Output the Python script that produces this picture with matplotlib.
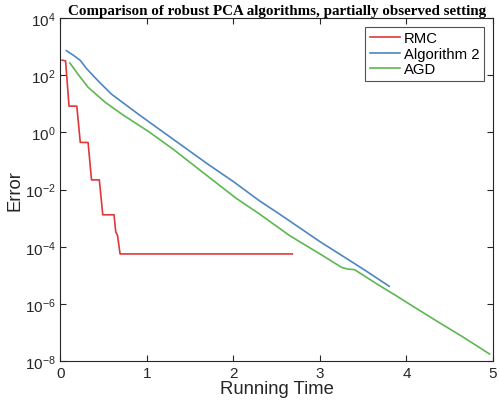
import numpy as np
import matplotlib
matplotlib.use("Agg")
import matplotlib.pyplot as plt
from matplotlib.ticker import FixedLocator, LogFormatterSciNotation, NullLocator

plt.rcParams['font.family'] = ['Liberation Sans', 'DejaVu Sans']
plt.rcParams['mathtext.default'] = 'regular'

# RMC: staircase (time, log10 error)
rmc_t = [0.02, 0.06, 0.10, 0.19, 0.23, 0.32, 0.36, 0.45, 0.49, 0.62, 0.64, 0.66, 0.69, 1.0, 1.5, 2.0, 2.68]
rmc_log = [2.53, 2.50, 0.92, 0.92, -0.35, -0.35, -1.66, -1.66, -2.88, -2.88, -3.48, -3.60, -4.25, -4.25, -4.25, -4.25, -4.25]

# Algorithm 2
alg_t = [0.07, 0.15, 0.23, 0.30, 0.45, 0.59, 0.75, 0.90, 1.30, 1.70, 2.00, 2.30, 2.53, 3.00, 3.50, 3.80]
alg_log = [2.86, 2.70, 2.52, 2.24, 1.76, 1.34, 0.98, 0.64, -0.23, -1.10, -1.72, -2.39, -2.85, -3.82, -4.78, -5.38]

# AGD
agd_t = [0.11, 0.20, 0.32, 0.52, 0.71, 1.02, 1.30, 1.69, 2.03, 2.30, 2.65, 3.00, 3.25, 3.32, 3.40, 3.69, 3.88, 4.00, 4.34, 4.65, 4.96]
agd_log = [2.43, 2.05, 1.58, 1.05, 0.64, 0.03, -0.58, -1.50, -2.30, -2.85, -3.61, -4.25, -4.72, -4.78, -4.80, -5.36, -5.71, -5.94, -6.58, -7.15, -7.75]

fig = plt.figure(figsize=(4.99, 4.06), dpi=100)
ax = fig.add_axes([0.121, 0.108, 0.867, 0.845])

ax.plot(rmc_t, 10.0 ** np.array(rmc_log), color='#e0373b', lw=1.2, label='RMC')
ax.plot(alg_t, 10.0 ** np.array(alg_log), color='#4d86c2', lw=1.2, label='Algorithm 2')
ax.plot(agd_t, 10.0 ** np.array(agd_log), color='#5cb84f', lw=1.2, label='AGD')

ax.set_yscale('log')
ax.set_xlim(0, 5)
ax.set_ylim(1e-8, 1e4)
ax.yaxis.set_major_locator(FixedLocator([1e-8, 1e-6, 1e-4, 1e-2, 1e0, 1e2, 1e4]))
ax.yaxis.set_major_formatter(LogFormatterSciNotation())
ax.yaxis.set_minor_locator(NullLocator())
ax.set_xticks([0, 1, 2, 3, 4, 5])

ax.tick_params(direction='in', top=True, right=True, labelsize=11, length=4, width=0.8, colors='#262626')
for s in ax.spines.values():
    s.set_linewidth(0.8)
    s.set_color('#262626')

ax.set_xlabel('Running Time', fontsize=13.3, labelpad=0, color='#262626')
ax.set_ylabel('Error', fontsize=13.3, labelpad=1, color='#262626')
ax.set_title('Comparison of robust PCA algorithms, partially observed setting',
             fontsize=10.8, fontweight='bold', family='Liberation Serif', pad=3)

leg = ax.legend(loc='upper right', fontsize=10.7, frameon=True, fancybox=False,
                edgecolor='#262626', handlelength=2.0, handletextpad=0.3,
                borderpad=0.3, labelspacing=0.1, borderaxespad=0.6)
leg.get_frame().set_linewidth(0.8)

fig.savefig('out.png', dpi=100)
